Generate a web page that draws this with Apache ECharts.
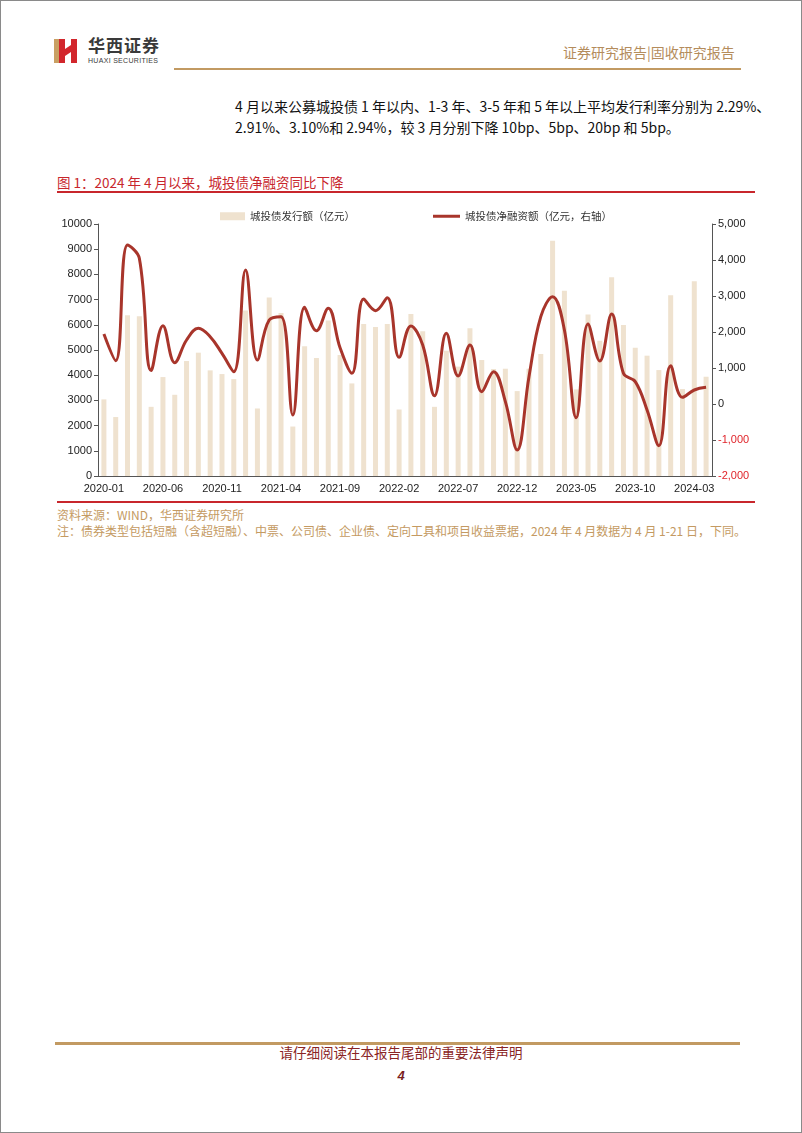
<!DOCTYPE html>
<html><head><meta charset="utf-8">
<script src="https://cdn.jsdelivr.net/npm/echarts@6/dist/echarts.min.js"></script>
<style>
html,body{margin:0;padding:0;background:#fff;}
body{width:802px;height:1133px;position:relative;overflow:hidden;font-family:"Noto Sans CJK SC","Noto Sans",sans-serif;}
.abs{position:absolute;white-space:nowrap;}
#frame{position:absolute;left:0;top:0;width:800px;height:1131px;border:1px solid #8a8a8a;}
#chart{position:absolute;left:40px;top:195px;width:730px;height:310px;}
</style></head><body>
<div id="frame"></div>
<!-- logo -->
<svg class="abs" style="left:54px;top:37px" width="28" height="28" viewBox="0 0 28 28">
  <rect x="0" y="2" width="6" height="24" fill="#c9a063"/>
  <path d="M5 2 L11 2 L11 12 L17 8 L17 2 L23 2 L23 26 L17 26 L17 15 L11 19 L11 26 L5 26 Z" fill="#d2262c"/>
</svg>
<div class="abs" style="left:88px;top:36px;font-size:17px;line-height:17px;font-weight:bold;color:#3a3a3a;letter-spacing:1px;">华西证券</div>
<div class="abs" style="left:88px;top:57px;font-size:7px;line-height:7px;color:#3a3a3a;font-family:'Liberation Sans',Arial,sans-serif;letter-spacing:0.3px;">HUAXI SECURITIES</div>
<div class="abs" style="left:563px;top:42px;font-size:14px;color:#b48c5c;">证券研究报告|固收研究报告</div>
<div class="abs" style="left:174px;top:68px;width:567px;height:2px;background:#c29a62;"></div>

<div class="abs" style="left:235px;top:96px;font-size:14px;color:#111;line-height:21px;">4 月以来公募城投债 1 年以内、1-3 年、3-5 年和 5 年以上平均发行利率分别为 2.29%、<br>2.91%、3.10%和 2.94%，较 3 月分别下降 10bp、5bp、20bp 和 5bp。</div>

<div class="abs" style="left:57px;top:172px;font-size:13.5px;color:#c8262c;">图 1：2024 年 4 月以来，城投债净融资同比下降</div>
<div class="abs" style="left:57px;top:191px;width:698px;height:2px;background:#c8262c;"></div>

<div id="chart"></div>

<div class="abs" style="left:57px;top:501px;width:698px;height:2px;background:#c8262c;"></div>
<div class="abs" style="left:57px;top:506px;font-size:12px;color:#c49a62;">资料来源：WIND，华西证券研究所</div>
<div class="abs" style="left:57px;top:522px;font-size:12px;color:#c49a62;">注：债券类型包括短融（含超短融）、中票、公司债、企业债、定向工具和项目收益票据，2024 年 4 月数据为 4 月 1-21 日，下同。</div>

<div class="abs" style="left:55px;top:1042px;width:685px;height:3px;background:#c29a62;"></div>
<div class="abs" style="left:0;width:802px;text-align:center;top:1042px;font-size:13.5px;color:#8a2424;">请仔细阅读在本报告尾部的重要法律声明</div>
<div class="abs" style="left:0;width:802px;text-align:center;top:1068px;font-size:13px;color:#7a1f1f;font-weight:bold;font-style:italic;font-family:'Liberation Sans',Arial,sans-serif;">4</div>

<script>
const months = ['2020-01','2020-02','2020-03','2020-04','2020-05','2020-06','2020-07','2020-08','2020-09','2020-10','2020-11','2020-12',
'2021-01','2021-02','2021-03','2021-04','2021-05','2021-06','2021-07','2021-08','2021-09','2021-10','2021-11','2021-12',
'2022-01','2022-02','2022-03','2022-04','2022-05','2022-06','2022-07','2022-08','2022-09','2022-10','2022-11','2022-12',
'2023-01','2023-02','2023-03','2023-04','2023-05','2023-06','2023-07','2023-08','2023-09','2023-10','2023-11','2023-12',
'2024-01','2024-02','2024-03','2024-04'];
const issuance = [3040,2340,6380,6340,2745,3926,3223,4562,4894,4191,4045,3846,
6565,2679,7082,6472,1963,5146,4682,6167,4801,3674,6034,5915,
6034,2639,6432,5743,2745,4973,4340,5862,4602,4244,4257,3369,
4257,4841,9337,7347,3435,6406,5371,7891,5995,5093,4775,4204,
7175,3450,7732,3939];
const netFinancing = [1944,1204,4417,4046,930,2176,1148,1778,2102,1870,1407,898,
3722,1222,2333,2426,-306,2685,2037,2657,1560,852,2917,2593,
2954,1296,2167,1639,231,1963,778,1639,343,898,65,-1278,
759,2426,2981,2056,-380,2222,1194,2500,852,620,-167,-1157,
1065,185,389,463];
const leftTicks = [0,10000,1000];
const rightTicks = [-2000,5000,1000];

const chart = echarts.init(document.getElementById('chart'));
const lblFont = {fontFamily:'"Liberation Sans", Arial, sans-serif', fontSize:11, color:'#222'};
chart.setOption({
  animation:false,
  legend:[
    {data:['城投债发行额（亿元）'],left:175,top:11,itemWidth:25,itemHeight:8,icon:'rect',
     textStyle:{fontSize:10.5,color:'#333',fontFamily:'"Noto Sans CJK SC"'}},
    {data:['城投债净融资额（亿元，右轴）'],left:388,top:11,itemWidth:27,itemHeight:3,icon:'rect',
     textStyle:{fontSize:10.5,color:'#333',fontFamily:'"Noto Sans CJK SC"'}}
  ],
  grid:{left:58,right:58,top:29,bottom:29},
  xAxis:{type:'category',data:months,boundaryGap:true,
    axisLine:{lineStyle:{color:'#555',width:1}},axisTick:{show:false},
    axisLabel:Object.assign({interval:4,margin:7},lblFont)},
  yAxis:[
    {type:'value',min:leftTicks[0],max:leftTicks[1],interval:leftTicks[2],splitLine:{show:false},
     axisLine:{show:true,lineStyle:{color:'#555'}},axisTick:{show:true,length:4,lineStyle:{color:'#555'}},
     axisLabel:Object.assign({margin:6,formatter:v=>String(v)},lblFont)},
    {type:'value',min:rightTicks[0],max:rightTicks[1],interval:rightTicks[2],splitLine:{show:false},position:'right',
     axisLine:{show:true,lineStyle:{color:'#555'}},axisTick:{show:true,length:4,lineStyle:{color:'#555'}},
     axisLabel:Object.assign({},lblFont,{margin:6,
       formatter:v=>{const s=Math.abs(v).toLocaleString('en-US');return v<0?'{neg|-'+s+'}':s;},
       rich:{neg:{color:'#e0242a',fontSize:11,fontFamily:'"Liberation Sans", Arial, sans-serif'}}})}
  ],
  series:[
    {name:'城投债发行额（亿元）',type:'bar',data:issuance,barWidth:5,itemStyle:{color:'#efe2cf'}},
    {name:'城投债净融资额（亿元，右轴）',type:'line',yAxisIndex:1,data:netFinancing,smooth:0.4,
     symbol:'none',lineStyle:{color:'#a8352b',width:3},itemStyle:{color:'#a8352b'}}
  ]
});
</script>
</body></html>
